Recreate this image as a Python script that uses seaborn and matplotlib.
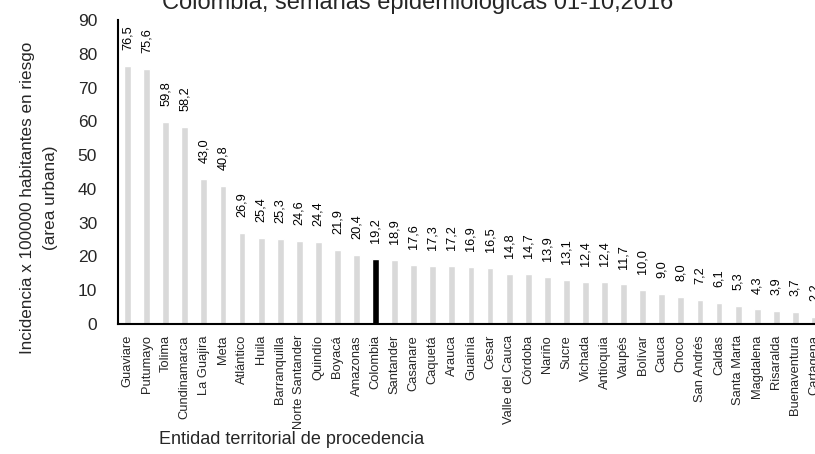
import matplotlib
matplotlib.use("Agg")
import matplotlib.pyplot as plt
import seaborn as sns
import pandas as pd

# Incidencia por entidad territorial (area urbana)
entidades = ["Guaviare", "Putumayo", "Tolima", "Cundinamarca", "La Guajira", "Meta",
             "Atlántico", "Huila", "Barranquilla", "Norte Santander", "Quindío", "Boyacá",
             "Amazonas", "Colombia", "Santander", "Casanare", "Caquetá", "Arauca",
             "Guainía", "Cesar", "Valle del Cauca", "Córdoba", "Nariño", "Sucre",
             "Vichada", "Antioquia", "Vaupés", "Bolívar", "Cauca", "Choco", "San Andrés",
             "Caldas", "Santa Marta", "Magdalena", "Risaralda", "Buenaventura", "Cartagena"]
incidencia = [76.5, 75.6, 59.8, 58.2, 43.0, 40.8, 26.9, 25.4, 25.3, 24.6, 24.4, 21.9,
              20.4, 19.2, 18.9, 17.6, 17.3, 17.2, 16.9, 16.5, 14.8, 14.7, 13.9, 13.1,
              12.4, 12.4, 11.7, 10.0, 9.0, 8.0, 7.2, 6.1, 5.3, 4.3, 3.9, 3.7, 2.2]
y_ticks = [0, 10, 20, 30, 40, 50, 60, 70, 80, 90]

sns.set_style("white")
plt.rcParams["font.family"] = ["Liberation Sans", "DejaVu Sans"]

df = pd.DataFrame({"entidad": entidades, "valor": incidencia})
colores = {e: ("#000000" if e == "Colombia" else "#d9d9d9") for e in entidades}

fig = plt.figure(figsize=(8.15, 4.54), dpi=100)
n = len(entidades)
ax = fig.add_axes([118 / 815, 130 / 454, n * 19.08 / 815, 304 / 454])

sns.barplot(data=df, x="entidad", y="valor", hue="entidad", palette=colores,
            width=0.36, legend=False, ax=ax, saturation=1)

# etiquetas de valor con coma decimal
for i, v in enumerate(incidencia):
    ax.annotate(f"{v:.1f}".replace(".", ","), (i, v), xytext=(0, 11.5),
                textcoords="offset points", rotation=90, ha="center", va="bottom",
                fontsize=9.2, color="black", annotation_clip=False)

ax.set_xlim(-0.5, n - 0.5)
ax.set_ylim(0, 90)
ax.set_yticks(y_ticks)
ax.set_yticklabels([str(t) for t in y_ticks], fontsize=12.5)
ax.set_xticks(range(n))
ax.set_xticklabels(entidades, rotation=90, fontsize=9.3)
ax.tick_params(axis="x", length=0, pad=8)
ax.tick_params(axis="y", length=0, pad=15)
ax.set_xlabel("")
ax.set_ylabel("")

for s in ["top", "right"]:
    ax.spines[s].set_visible(False)
for s in ["left", "bottom"]:
    ax.spines[s].set_color("black")
    ax.spines[s].set_linewidth(1.5)

fig.text(39 / 815, 1 - 198 / 454, "Incidencia x 100000 habitantes en riesgo\n(area urbana)",
         rotation=90, ha="center", va="center", multialignment="center",
         fontsize=12.3, linespacing=1.6)
fig.text(292 / 815, 1 - 439 / 454, "Entidad territorial de procedencia",
         ha="center", va="center", fontsize=13)
fig.text(418 / 815, 1 - 9 / 454, "Colombia, semanas epidemiologicas 01-10,2016",
         ha="center", va="baseline", fontsize=17)

fig.savefig("out.png", dpi=100)
